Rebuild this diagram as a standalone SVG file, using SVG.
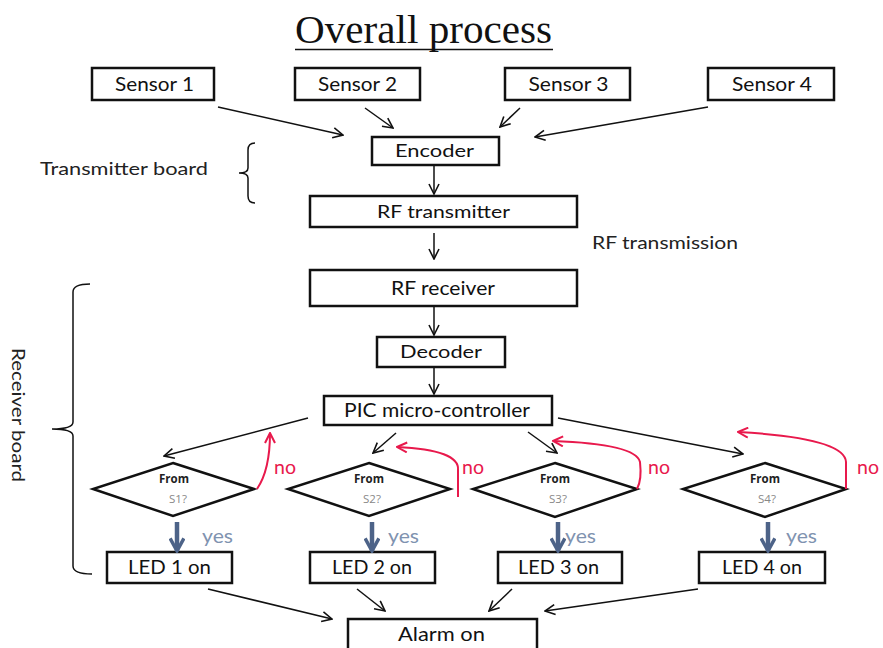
<svg xmlns="http://www.w3.org/2000/svg" width="883" height="648" viewBox="0 0 883 648">
<defs>
<style>
.box{fill:#fff;stroke:#111;stroke-width:2.5}
.dia{fill:#fff;stroke:#111;stroke-width:2.5}
.t{font-family:Lato,"Open Sans","Liberation Sans",sans-serif;fill:#111;text-anchor:middle}
.lbl{font-family:Lato,"Open Sans","Liberation Sans",sans-serif;fill:#222}
.con{fill:none;stroke:#111;stroke-width:1.5}
.red{fill:none;stroke:#e8194c;stroke-width:2}
.yes{fill:none;stroke:#4d6388;stroke-width:4.5}
.from{font-family:"Open Sans","Liberation Sans",sans-serif;font-weight:bold;font-size:11.5px;fill:#222;text-anchor:middle}
.sq{font-family:"Open Sans","Liberation Sans",sans-serif;font-size:11.5px;fill:#888;text-anchor:middle}
.no{font-family:Lato,"Open Sans","Liberation Sans",sans-serif;font-size:19px;fill:#e8194c}
.ylbl{font-family:Lato,"Open Sans","Liberation Sans",sans-serif;font-size:19px;fill:#7f93b0}
</style>
<marker id="ah" viewBox="0 0 12 12" refX="11" refY="6" markerWidth="12" markerHeight="12" markerUnits="userSpaceOnUse" orient="auto">
<path d="M1,1 L11,6 L1,11" fill="none" stroke="#111" stroke-width="1.6"/>
</marker>
<marker id="ahr" viewBox="0 0 12 12" refX="11" refY="6" markerWidth="12" markerHeight="12" markerUnits="userSpaceOnUse" orient="auto">
<path d="M1,1 L11,6 L1,11" fill="none" stroke="#e8194c" stroke-width="2"/>
</marker>
<marker id="ahb" viewBox="0 0 14 14" refX="12" refY="7" markerWidth="16" markerHeight="16" markerUnits="userSpaceOnUse" orient="auto">
<path d="M1,1 L12,7 L1,13" fill="none" stroke="#4d6388" stroke-width="3"/>
</marker>
</defs>
<rect width="883" height="648" fill="#fff"/>

<g id="title">
<text x="295" y="43" font-family="'Liberation Serif',serif" font-size="41" fill="#111" textLength="257" lengthAdjust="spacingAndGlyphs">Overall process</text>
<line x1="295" y1="49.5" x2="553" y2="49.5" stroke="#111" stroke-width="1.5"/>
</g>

<g id="sensor1"><rect class="box" x="92" y="68" width="122" height="32"/><text class="t" x="154.5" y="91" font-size="19" textLength="79" lengthAdjust="spacingAndGlyphs">Sensor 1</text></g>
<g id="sensor2"><rect class="box" x="295" y="68" width="125" height="32"/><text class="t" x="357.5" y="91" font-size="19" textLength="79" lengthAdjust="spacingAndGlyphs">Sensor 2</text></g>
<g id="sensor3"><rect class="box" x="505" y="68" width="125" height="32"/><text class="t" x="568.5" y="91" font-size="19" textLength="80" lengthAdjust="spacingAndGlyphs">Sensor 3</text></g>
<g id="sensor4"><rect class="box" x="708" y="68" width="126" height="32"/><text class="t" x="772" y="91" font-size="19" textLength="80" lengthAdjust="spacingAndGlyphs">Sensor 4</text></g>

<g id="encoder"><rect class="box" x="372" y="137" width="127" height="28"/><text class="t" x="434.5" y="157" font-size="18" textLength="79" lengthAdjust="spacingAndGlyphs">Encoder</text></g>
<g id="tx"><rect class="box" x="310" y="196" width="267" height="31"/><text class="t" x="443.5" y="218" font-size="18" textLength="133" lengthAdjust="spacingAndGlyphs">RF transmitter</text></g>
<g id="rx"><rect class="box" x="310" y="270" width="267" height="36"/><text class="t" x="443" y="295" font-size="19" textLength="104" lengthAdjust="spacingAndGlyphs">RF receiver</text></g>
<g id="decoder"><rect class="box" x="377" y="337" width="128" height="30"/><text class="t" x="441" y="358" font-size="18" textLength="82" lengthAdjust="spacingAndGlyphs">Decoder</text></g>
<g id="pic"><rect class="box" x="324" y="396" width="228" height="29"/><text class="t" x="437" y="417" font-size="19" textLength="186" lengthAdjust="spacingAndGlyphs">PIC micro-controller</text></g>

<g id="txboard">
<text class="lbl" x="40" y="175" font-size="18" textLength="168" lengthAdjust="spacingAndGlyphs">Transmitter board</text>
<path d="M255,143 Q248,143 248,150 L248,168 Q248,173 239,173 Q248,173 248,178 L248,196 Q248,203 255,203" fill="none" stroke="#111" stroke-width="1.5"/>
</g>
<g id="rftrans"><text class="lbl" x="592" y="249" font-size="18" textLength="146" lengthAdjust="spacingAndGlyphs">RF transmission</text></g>

<g id="rxboard">
<text class="lbl" transform="translate(12,415) rotate(90)" x="0" y="0" font-size="18" text-anchor="middle" textLength="134" lengthAdjust="spacingAndGlyphs">Receiver board</text>
<path d="M90,284 Q73,284 73,292 L73,422 Q73,429 52,429 Q73,429 73,436 L73,566 Q73,574 92,574" fill="none" stroke="#111" stroke-width="1.5"/>
</g>

<g id="d1"><polygon class="dia" points="173,463 254,489 173,516 93,489"/><text class="from" x="174" y="483">From</text><text class="sq" x="178" y="503">S1?</text></g>
<g id="d2"><polygon class="dia" points="369,463 450,489 369,516 288,489"/><text class="from" x="369" y="483">From</text><text class="sq" x="372" y="503">S2?</text></g>
<g id="d3"><polygon class="dia" points="555,463 637,489 555,517 473,489"/><text class="from" x="555" y="483">From</text><text class="sq" x="558" y="503">S3?</text></g>
<g id="d4"><polygon class="dia" points="765,463 846,489 765,517 683,489"/><text class="from" x="765" y="483">From</text><text class="sq" x="767" y="503">S4?</text></g>

<g id="led1"><rect class="box" x="107" y="552" width="125" height="31"/><text class="t" x="169.5" y="574" font-size="19" textLength="83" lengthAdjust="spacingAndGlyphs">LED 1 on</text></g>
<g id="led2"><rect class="box" x="310" y="552" width="125" height="31"/><text class="t" x="372" y="574" font-size="19" textLength="80" lengthAdjust="spacingAndGlyphs">LED 2 on</text></g>
<g id="led3"><rect class="box" x="498" y="552" width="124" height="31"/><text class="t" x="558.5" y="574" font-size="19" textLength="81" lengthAdjust="spacingAndGlyphs">LED 3 on</text></g>
<g id="led4"><rect class="box" x="699" y="552" width="126" height="31"/><text class="t" x="762" y="574" font-size="19" textLength="80" lengthAdjust="spacingAndGlyphs">LED 4 on</text></g>

<g id="alarm"><rect class="box" x="348" y="619" width="189" height="32"/><text class="t" x="441.5" y="641" font-size="19" textLength="87" lengthAdjust="spacingAndGlyphs">Alarm on</text></g>

<g id="connectors">
<line class="con" x1="218" y1="107" x2="343" y2="135" marker-end="url(#ah)"/>
<line class="con" x1="365" y1="108" x2="393" y2="128" marker-end="url(#ah)"/>
<line class="con" x1="520" y1="108" x2="500" y2="127" marker-end="url(#ah)"/>
<line class="con" x1="708" y1="107" x2="535" y2="137" marker-end="url(#ah)"/>
<line class="con" x1="434" y1="166" x2="434" y2="194" marker-end="url(#ah)"/>
<line class="con" x1="434" y1="233" x2="434" y2="259" marker-end="url(#ah)"/>
<line class="con" x1="434" y1="307" x2="434" y2="335" marker-end="url(#ah)"/>
<line class="con" x1="434" y1="368" x2="434" y2="394" marker-end="url(#ah)"/>

<line class="con" x1="308" y1="418" x2="164" y2="456" marker-end="url(#ah)"/>
<line class="con" x1="396" y1="433" x2="373" y2="453" marker-end="url(#ah)"/>
<line class="con" x1="528" y1="432" x2="557" y2="453" marker-end="url(#ah)"/>
<line class="con" x1="558" y1="418" x2="743" y2="454" marker-end="url(#ah)"/>

<path class="red" d="M257,489 Q270,470 270,433" marker-end="url(#ahr)"/>
<path class="red" d="M458,497 L458,470 Q460,450 397,447" marker-end="url(#ahr)"/>
<path class="red" d="M637,489 Q642,480 640,462 Q636,444 553,441" marker-end="url(#ahr)"/>
<path class="red" d="M846,489 L846,462 Q845,438 738,432" marker-end="url(#ahr)"/>

<line class="yes" x1="177" y1="522" x2="177" y2="551" marker-end="url(#ahb)"/>
<line class="yes" x1="372" y1="522" x2="372" y2="551" marker-end="url(#ahb)"/>
<line class="yes" x1="558" y1="522" x2="558" y2="551" marker-end="url(#ahb)"/>
<line class="yes" x1="768" y1="522" x2="768" y2="551" marker-end="url(#ahb)"/>

<line class="con" x1="208" y1="589" x2="332" y2="619" marker-end="url(#ah)"/>
<line class="con" x1="357" y1="589" x2="385" y2="611" marker-end="url(#ah)"/>
<line class="con" x1="512" y1="589" x2="489" y2="611" marker-end="url(#ah)"/>
<line class="con" x1="698" y1="589" x2="545" y2="611" marker-end="url(#ah)"/>
</g>

<g id="labels">
<text class="no" x="274" y="474" textLength="22" lengthAdjust="spacingAndGlyphs">no</text>
<text class="no" x="462" y="474" textLength="22" lengthAdjust="spacingAndGlyphs">no</text>
<text class="no" x="648" y="474" textLength="22" lengthAdjust="spacingAndGlyphs">no</text>
<text class="no" x="857" y="474" textLength="22" lengthAdjust="spacingAndGlyphs">no</text>
<text class="ylbl" x="202" y="543" textLength="31" lengthAdjust="spacingAndGlyphs">yes</text>
<text class="ylbl" x="388" y="543" textLength="31" lengthAdjust="spacingAndGlyphs">yes</text>
<text class="ylbl" x="565" y="543" textLength="31" lengthAdjust="spacingAndGlyphs">yes</text>
<text class="ylbl" x="786" y="543" textLength="31" lengthAdjust="spacingAndGlyphs">yes</text>
</g>
</svg>
